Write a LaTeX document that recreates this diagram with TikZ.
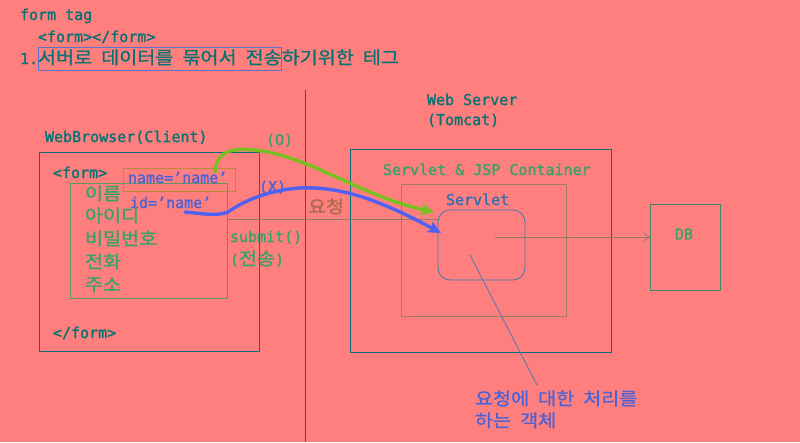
\documentclass[tikz,border=0pt]{standalone}
\usepackage{fontspec}
\setmainfont{DejaVu Sans Mono}[RawFeature={embolden=1.3}]
\newfontfamily\krfont[FakeStretch=1.115,RawFeature={embolden=1.0}]{Noto Sans CJK KR}
\usetikzlibrary{arrows.meta}
\newcommand\K[1]{{\krfont\fontsize{17.6}{20}\selectfont\spaceskip=9pt\relax #1}}
\definecolor{bg}{HTML}{FF7F7F}
\definecolor{cteal}{HTML}{087272}
\definecolor{cgreen}{HTML}{35A268}
\definecolor{cblue}{HTML}{4A62D6}
\definecolor{cservlet}{HTML}{2F6EB8}
\definecolor{cbrown}{HTML}{A86A50}
\definecolor{cnamebox}{HTML}{B88A3C}
\definecolor{cformbox}{HTML}{5A9A5A}
\definecolor{ccont}{HTML}{A07C68}
\definecolor{cline}{HTML}{907868}
\definecolor{cobj}{HTML}{3A7AAE}
\definecolor{cdb}{HTML}{3A8A6A}
\definecolor{gcurve}{HTML}{78C020}
\definecolor{bcurve}{HTML}{5060F0}
\definecolor{chl}{HTML}{5A72C8}
\begin{document}
\begin{tikzpicture}[x=1pt,y=-1pt,font=\fontsize{15}{18}\selectfont,
  txt/.style={anchor=base west,inner sep=0pt,outer sep=0pt},
  box/.style={draw,anchor=north west,inner sep=0pt,outer sep=0pt,line width=0.8pt},
  thinline/.style={line width=0.7pt},
  handcurve/.style={line width=3.4pt,line cap=round,line join=round,
    -{Stealth[length=13pt,width=12pt,inset=3pt]}}]
\useasboundingbox (0,0) rectangle (800,442);
\fill[bg] (0,0) rectangle (800,442);

% header texts
\node[txt,text=cteal] (t1) at (20,20) {form tag};
\node[txt,text=cteal] (t2) at (38,42) {<form></form>};
\node[txt,text=cteal] (t3) at (20,64) {1.\K{서버로 데이터를 묶어서 전송하기위한 테그}};
\node[box,draw=chl,line width=0.7pt,minimum width=243pt,minimum height=23pt] (hl) at (38,47) {};

% divider
\coordinate (dtop) at (305,90);
\coordinate (dbot) at (305,442);
\draw[cteal,thinline] (dtop) -- (dbot);

% browser side
\node[txt,text=cteal] (wb) at (45,142) {WebBrowser(Client)};
\node[box,draw=cteal,minimum width=220pt,minimum height=199pt] (browser) at (39,152) {};
\node[txt,text=cteal] (fo) at (53,178) {<form>};
\node[txt,text=cteal] (fc) at (53,338) {</form>};
\node[box,draw=cformbox,minimum width=157pt,minimum height=115pt] (form) at (70,183) {};
\node[box,draw=cnamebox,minimum width=112pt,minimum height=23pt] (namebox) at (123,168) {};
\node[txt,text=cblue] (nm) at (128,183) {name='name'};
\node[txt,text=cblue] (idn) at (130,208) {id='name'};
\node[txt,text=cgreen] (f1) at (85,200) {\K{이름}};
\node[txt,text=cgreen] (f2) at (85,222) {\K{아이디}};
\node[txt,text=cgreen] (f3) at (85,245) {\K{비밀번호}};
\node[txt,text=cgreen] (f4) at (85,268) {\K{전화}};
\node[txt,text=cgreen] (f5) at (85,291) {\K{주소}};
\node[txt,text=cgreen] (sub) at (230,242) {submit()};
\node[txt,text=cgreen] (subk) at (230,265) {(\K{전송})};
\node[txt,text=cgreen] (ok) at (266,145) {(O)};
\node[txt,text=cblue] (ng) at (259,192) {(X)};
\node[txt,text=cbrown] (req) at (308,213) {\K{요청}};

% server side
\node[txt,text=cteal] (ws) at (427,105) {Web Server};
\node[txt,text=cteal] (tc) at (427,125) {(Tomcat)};
\node[box,draw=cteal,minimum width=261pt,minimum height=203pt] (server) at (350,149) {};
\node[txt,text=cgreen] (ctl) at (383,175) {Servlet \& JSP Container};
\node[box,draw=ccont,minimum width=165pt,minimum height=132pt] (cont) at (401,184) {};
\node[txt,text=cservlet] (svl) at (446,205) {Servlet};
\node[box,draw=cobj,rounded corners=12pt,minimum width=87pt,minimum height=70pt] (obj) at (438,210) {};
\node[box,draw=cdb,minimum width=70pt,minimum height=86pt] (db) at (650,204) {};
\node[text=cgreen,inner sep=0pt] (dbt) at (684,234) {DB};
\node[txt,text=cblue] (d1) at (475,405) {\K{요청에 대한 처리를}};
\node[txt,text=cblue] (d2) at (475,427) {\K{하는 객체}};

% connectors
\draw[cline,thinline] (form.east |- 0,219) -- (obj.west |- 0,219);
\coordinate (objr) at (495,237);
\draw[cline,thinline,-{To[length=6pt,width=9pt]}] (objr) -- (db.west |- objr);
\coordinate (objd) at (470,255);
\coordinate (desctop) at (537,385);
\draw[cobj,thinline] (objd) -- (desctop);

% hand drawn curves
\coordinate (gs) at (215,172);
\coordinate (ge) at (434,212);
\draw[gcurve,handcurve] (gs) .. controls (217,150) and (232,148) .. (255,150)
   .. controls (310,156) and (360,196) .. (ge);
\coordinate (bs) at (185,212);
\coordinate (be) at (441,233);
\draw[bcurve,handcurve] (bs) .. controls (205,214) and (218,216) .. (228,212)
   .. controls (245,200) and (270,190) .. (300,188)
   .. controls (340,186) and (380,200) .. (be);
\end{tikzpicture}
\end{document}
